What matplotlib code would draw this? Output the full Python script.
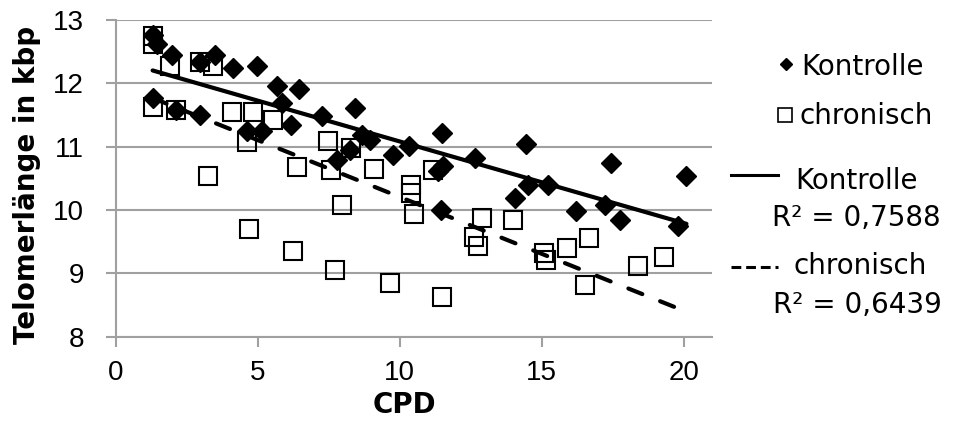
import matplotlib

matplotlib.use("Agg")

import matplotlib.pyplot as plt
import numpy as np
from matplotlib.lines import Line2D

# values
kontrolle_cpd = [1.30, 1.45, 1.32, 1.99, 2.12, 2.97, 2.97, 3.50, 4.14, 4.61,
                 4.96, 5.14, 5.67, 5.87, 6.17, 6.46, 7.25, 7.78, 8.25, 8.43,
                 8.66, 8.95, 9.75, 10.34, 11.35, 11.45, 11.48, 11.54, 12.64, 14.06,
                 14.44, 14.53, 15.23, 16.21, 17.23, 17.44, 17.75, 19.81, 20.10]
kontrolle_tel = [12.76, 12.62, 11.77, 12.45, 11.58, 12.34, 11.50, 12.45, 12.24, 11.24,
                 12.28, 11.24, 11.96, 11.69, 11.34, 11.91, 11.48, 10.79, 10.95, 11.61,
                 11.19, 11.11, 10.87, 11.01, 10.61, 10.00, 11.22, 10.69, 10.82, 10.19,
                 11.04, 10.40, 10.40, 9.99, 10.08, 10.75, 9.85, 9.74, 10.54]

chronisch_cpd = [1.32, 1.32, 1.32, 1.91, 2.12, 2.97, 3.26, 3.42, 4.08, 4.61,
                 4.69, 4.85, 5.55, 6.23, 6.37, 7.46, 7.58, 7.72, 7.98, 8.28,
                 9.09, 9.66, 10.39, 10.41, 10.50, 11.18, 11.48, 12.62, 12.77, 12.89,
                 14.00, 15.08, 15.15, 15.90, 16.52, 16.68, 18.40, 19.32]
chronisch_tel = [12.75, 12.62, 11.63, 12.28, 11.58, 12.34, 10.53, 12.27, 11.54, 11.08,
                 9.70, 11.54, 11.42, 9.36, 10.68, 11.09, 10.63, 9.05, 10.08, 10.98,
                 10.65, 8.85, 10.40, 10.27, 9.94, 10.63, 8.62, 9.58, 9.43, 9.87,
                 9.85, 9.32, 9.21, 9.40, 8.81, 9.56, 9.12, 9.26]

r2_kontrolle = "R² = 0,7588"
r2_chronisch = "R² = 0,6439"
x_ticks = [0, 5, 10, 15, 20]
y_ticks = [8, 9, 10, 11, 12, 13]

W, H = 954, 426
GRID = "#a0a0a0"

fig = plt.figure(figsize=(W / 100, H / 100), dpi=100)
ax = fig.add_axes([115.7 / W, 1 - 336.7 / H, (712 - 115.7) / W, (336.7 - 20) / H])

ax.set_xlim(0, 21)
ax.set_ylim(8, 13)
ax.set_xticks(x_ticks)
ax.set_yticks(y_ticks)
ax.yaxis.grid(True, color=GRID, lw=1.5)
ax.set_axisbelow(True)
for side in ("top", "right"):
    ax.spines[side].set_visible(False)
for side in ("left", "bottom"):
    ax.spines[side].set_color(GRID)
    ax.spines[side].set_linewidth(1.5)
ax.tick_params(axis="both", length=7, width=1.5, color=GRID, labelsize=20)
ax.tick_params(axis="y", pad=16)
ax.tick_params(axis="x", pad=10)
for lab in ax.get_xticklabels() + ax.get_yticklabels():
    lab.set_family("Liberation Sans")

# trend lines
x_fit = np.array([min(kontrolle_cpd + chronisch_cpd), max(kontrolle_cpd + chronisch_cpd)])
k_fit = np.polyfit(kontrolle_cpd, kontrolle_tel, 1)
c_fit = np.polyfit(chronisch_cpd, chronisch_tel, 1)

ax.plot(chronisch_cpd, chronisch_tel, ls="none", marker="s", ms=12.5,
        mfc="none", mec="black", mew=1.5, zorder=3)
ax.plot(kontrolle_cpd, kontrolle_tel, ls="none", marker="D", ms=10.5,
        mfc="black", mec="black", mew=1, zorder=4)
ax.plot(x_fit, np.polyval(k_fit, x_fit), color="black", lw=3,
        solid_capstyle="round", zorder=5)
ax.plot(x_fit, np.polyval(c_fit, x_fit), color="black", lw=3,
        ls=(0, (3.6, 4.6)), dash_capstyle="round", zorder=5)

fig.text(27 / W, 1 - 184.5 / H, "Telomerlänge in kbp", rotation=90,
         ha="center", va="center", fontsize=20, fontweight="bold")
fig.text(404 / W, 1 - 405 / H, "CPD", ha="center", va="center",
         fontsize=20, fontweight="bold")


# legend drawn by hand, Excel style
def fx(px):
    return px / W


def fy(py):
    return 1 - py / H


fig.add_artist(Line2D([fx(786)], [fy(64)], marker="D", ms=6.6, color="black",
                      ls="none", transform=fig.transFigure))
fig.text(fx(801), fy(75), "Kontrolle", ha="left", va="baseline", fontsize=20)
fig.add_artist(Line2D([fx(785)], [fy(115)], marker="s", ms=10, mfc="none",
                      mec="black", mew=1.2, ls="none", transform=fig.transFigure))
fig.text(fx(800), fy(124), "chronisch", ha="left", va="baseline", fontsize=20)

fig.add_artist(Line2D([fx(731), fx(778)], [fy(175), fy(175)], color="black",
                      lw=2.2, transform=fig.transFigure))
fig.text(fx(857), fy(189), "Kontrolle", ha="center", va="baseline", fontsize=20)
fig.text(fx(856), fy(226), r2_kontrolle, ha="center", va="baseline", fontsize=20)

fig.add_artist(Line2D([fx(731), fx(778)], [fy(267), fy(267)], color="black",
                      lw=2.2, ls=(0, (3.2, 1.6)), transform=fig.transFigure))
fig.text(fx(860), fy(274), "chronisch", ha="center", va="baseline", fontsize=20)
fig.text(fx(857), fy(313), r2_chronisch, ha="center", va="baseline", fontsize=20)

fig.savefig("out.png", dpi=100)
